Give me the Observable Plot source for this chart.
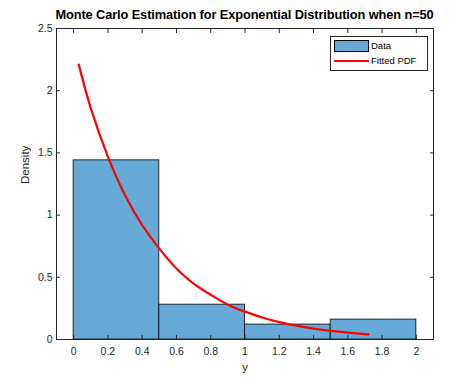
<!DOCTYPE html>
<html><head><meta charset="utf-8">
<script src="https://cdn.jsdelivr.net/npm/d3@7"></script>
<script src="https://cdn.jsdelivr.net/npm/@observablehq/plot@0.6"></script>
<style>
body{margin:0;background:#fff;font-family:"Liberation Sans",Arial,sans-serif;}
#wrap{position:relative;width:469px;height:381px;}
#title{position:absolute;left:0;width:489px;top:7px;text-align:center;font-weight:bold;font-size:12.8px;color:#000;letter-spacing:-0.1px;}
#legend{position:absolute;left:330px;top:36px;width:96px;height:33px;border:1px solid #262626;background:#fff;font-size:9.5px;color:#000;}
.li{position:absolute;left:3px;height:12px;}
.li span{position:absolute;left:37px;top:0;line-height:12px;white-space:nowrap;}
</style></head>
<body><div id="wrap"><div id="title">Monte Carlo Estimation for Exponential Distribution when n=50</div></div>
<script>
const binStart = [0, 0.5, 1.0, 1.5];
const binEnd = [0.5, 1.0, 1.5, 2.0];
const density = [1.44, 0.28, 0.12, 0.16];
const pdfX = [0.03, 0.1, 0.2, 0.3, 0.4, 0.5, 0.6, 0.7, 0.8, 0.9, 1.0, 1.1, 1.2, 1.3, 1.4, 1.5, 1.6, 1.72];
const pdfY = [2.21, 1.86, 1.47, 1.16, 0.92, 0.73, 0.57, 0.45, 0.36, 0.28, 0.224, 0.177, 0.14, 0.111, 0.088, 0.069, 0.055, 0.041];
const xTicks = [0, 0.2, 0.4, 0.6, 0.8, 1, 1.2, 1.4, 1.6, 1.8, 2];
const yTicks = [0, 0.5, 1, 1.5, 2, 2.5];

const bins = binStart.map((s, i) => ({x1: s, x2: binEnd[i], y: density[i]}));
const pdf = pdfX.map((x, i) => ({x, y: pdfY[i]}));
const axisColor = "#262626";

const chart = Plot.plot({
  width: 469, height: 381,
  marginTop: 28, marginBottom: 42, marginLeft: 56, marginRight: 36,
  style: {fontFamily: '"Liberation Sans", Arial, sans-serif', fontSize: "10.5px", color: axisColor, background: "white"},
  x: {domain: [-0.1, 2.1]},
  y: {domain: [0, 2.5]},
  marks: [
    Plot.rectY(bins, {x1: "x1", x2: "x2", y: "y", fill: "#66aad7", stroke: "#000", strokeWidth: 0.8}),
    Plot.line(pdf, {x: "x", y: "y", stroke: "#ff0000", strokeWidth: 2.2, curve: "natural"}),
    Plot.frame({stroke: axisColor, strokeWidth: 1}),
    Plot.axisX({ticks: xTicks, anchor: "bottom", tickSize: 0, tickPadding: 8, label: null, fill: axisColor, tickFormat: d => String(d)}),
    Plot.axisX({ticks: xTicks, anchor: "bottom", tickSize: 4, text: null, dy: -4, label: null, stroke: axisColor}),
    Plot.axisX({ticks: xTicks, anchor: "top", tickSize: 4, text: null, dy: 4, label: null, stroke: axisColor}),
    Plot.axisY({ticks: yTicks, anchor: "left", tickSize: 0, tickPadding: 4, label: null, fill: axisColor, tickFormat: d => String(d)}),
    Plot.axisY({ticks: yTicks, anchor: "left", tickSize: 4, text: null, dx: 4, label: null, stroke: axisColor}),
    Plot.axisY({ticks: yTicks, anchor: "right", tickSize: 4, text: null, dx: -4, label: null, stroke: axisColor}),
    Plot.text(["Density"], {frameAnchor: "left", dx: -31, rotate: -90, fill: axisColor, fontSize: 11.5}),
    Plot.text(["y"], {frameAnchor: "bottom", dy: 31, fill: axisColor, fontSize: 11.5})
  ]
});
const wrap = document.getElementById("wrap");
wrap.insertBefore(chart, wrap.firstChild);
chart.style.position = "absolute"; chart.style.left = "0"; chart.style.top = "0";

const legend = document.createElement("div");
legend.id = "legend";
legend.innerHTML = `
<div class="li" style="top:3px;"><div style="position:absolute;left:0;top:0;width:33px;height:10px;background:#66aad7;border:1px solid #000;"></div><span>Data</span></div>
<div class="li" style="top:18px;"><div style="position:absolute;left:0;top:5px;width:35px;height:2px;background:#ff0000;"></div><span>Fitted PDF</span></div>`;
wrap.appendChild(legend);
</script></body></html>
